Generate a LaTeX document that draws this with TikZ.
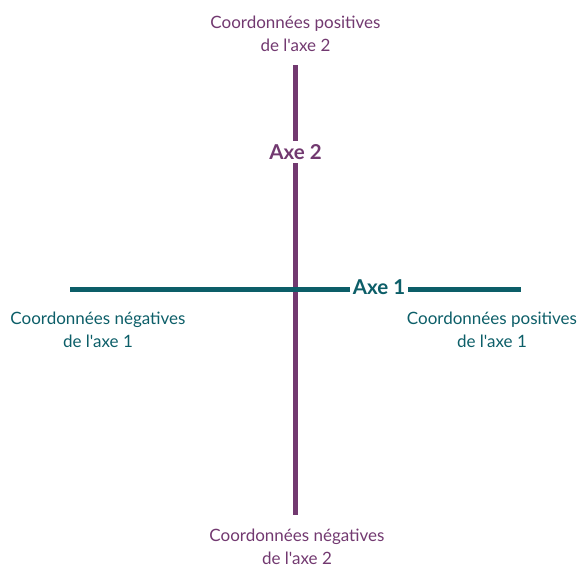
\documentclass[tikz,border=0pt]{standalone}
\usepackage{fontspec}
\setmainfont{Lato}[Ligatures=TeXOff]
\definecolor{axeviolet}{RGB}{114,57,112}
\definecolor{axeteal}{RGB}{12,94,104}
\begin{document}
\begin{tikzpicture}[x=1pt, y=-1pt,
  coordlbl/.style={align=center, font=\fontsize{17}{23}\selectfont, inner sep=0pt},
  axelbl/.style={fill=white, font=\fontsize{20.5}{22}\selectfont\bfseries, inner sep=3pt},
  axeline/.style={line width=5pt}]
  \useasboundingbox (0,0) rectangle (579,568);
  % axe 2 (vertical)
  \coordinate (v2top) at (295.5,65);
  \coordinate (v2bot) at (295.5,515);
  \draw[axeline, axeviolet] (v2top) -- (v2bot);
  \node[axelbl, text=axeviolet] (axe2) at (295.5,152) {Axe 2};
  % axe 1 (horizontal)
  \coordinate (h1left) at (70,289.5);
  \coordinate (h1right) at (521,289.5);
  \draw[axeline, axeteal] (h1left) -- (h1right);
  \node[axelbl, text=axeteal] (axe1) at (379,287.5) {Axe 1};
  % libelles
  \node[coordlbl, text=axeviolet] (pos2) at (295.5,34) {Coordonnées positives\\de l'axe 2};
  \node[coordlbl, text=axeviolet] (neg2) at (297,547) {Coordonnées négatives\\de l'axe 2};
  \node[coordlbl, text=axeteal] (neg1) at (98,330) {Coordonnées négatives\\de l'axe 1};
  \node[coordlbl, text=axeteal] (pos1) at (492,330) {Coordonnées positives\\de l'axe 1};
\end{tikzpicture}
\end{document}
